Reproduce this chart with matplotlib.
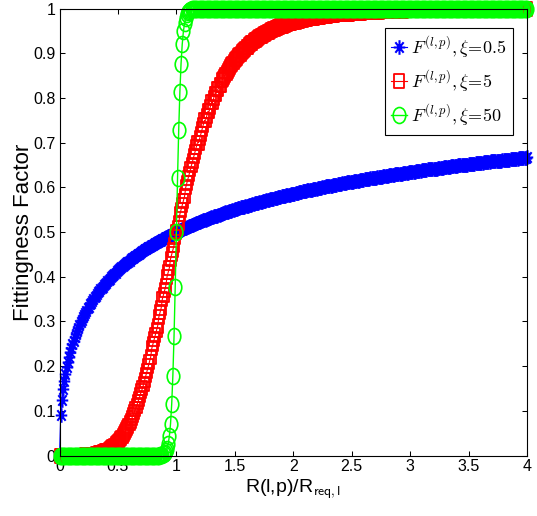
import numpy as np
import matplotlib
matplotlib.use("Agg")
import matplotlib.pyplot as plt
from matplotlib.path import Path
from matplotlib.transforms import Affine2D
from matplotlib import font_manager

# ---------------- data (grid step 0.01) ----------------
x_start, x_stop, n_points = 0.0, 4.0, 401
x_values = np.linspace(x_start, x_stop, n_points)

series_labels = [r"$F^{(l,p)},\xi\!=\!0.5$",
                 r"$F^{(l,p)},\xi\!=\!5$",
                 r"$F^{(l,p)},\xi\!=\!50$"]

f_xi_0_5 = [
    0.000, 0.091, 0.124, 0.148, 0.167, 0.183, 0.197, 0.209, 0.220, 0.231,
    0.240, 0.249, 0.257, 0.265, 0.272, 0.279, 0.286, 0.292, 0.298, 0.304,
    0.309, 0.314, 0.319, 0.324, 0.329, 0.333, 0.338, 0.342, 0.346, 0.350,
    0.354, 0.358, 0.361, 0.365, 0.368, 0.372, 0.375, 0.378, 0.381, 0.384,
    0.387, 0.390, 0.393, 0.396, 0.399, 0.402, 0.404, 0.407, 0.409, 0.412,
    0.414, 0.417, 0.419, 0.421, 0.424, 0.426, 0.428, 0.430, 0.432, 0.434,
    0.436, 0.439, 0.441, 0.443, 0.444, 0.446, 0.448, 0.450, 0.452, 0.454,
    0.456, 0.457, 0.459, 0.461, 0.462, 0.464, 0.466, 0.467, 0.469, 0.471,
    0.472, 0.474, 0.475, 0.477, 0.478, 0.480, 0.481, 0.483, 0.484, 0.485,
    0.487, 0.488, 0.490, 0.491, 0.492, 0.494, 0.495, 0.496, 0.497, 0.499,
    0.500, 0.501, 0.502, 0.504, 0.505, 0.506, 0.507, 0.508, 0.510, 0.511,
    0.512, 0.513, 0.514, 0.515, 0.516, 0.517, 0.518, 0.520, 0.521, 0.522,
    0.523, 0.524, 0.525, 0.526, 0.527, 0.528, 0.529, 0.530, 0.531, 0.532,
    0.533, 0.534, 0.535, 0.536, 0.536, 0.537, 0.538, 0.539, 0.540, 0.541,
    0.542, 0.543, 0.544, 0.545, 0.545, 0.546, 0.547, 0.548, 0.549, 0.550,
    0.551, 0.551, 0.552, 0.553, 0.554, 0.555, 0.555, 0.556, 0.557, 0.558,
    0.558, 0.559, 0.560, 0.561, 0.561, 0.562, 0.563, 0.564, 0.564, 0.565,
    0.566, 0.567, 0.567, 0.568, 0.569, 0.569, 0.570, 0.571, 0.572, 0.572,
    0.573, 0.574, 0.574, 0.575, 0.576, 0.576, 0.577, 0.578, 0.578, 0.579,
    0.580, 0.580, 0.581, 0.581, 0.582, 0.583, 0.583, 0.584, 0.585, 0.585,
    0.586, 0.586, 0.587, 0.588, 0.588, 0.589, 0.589, 0.590, 0.591, 0.591,
    0.592, 0.592, 0.593, 0.593, 0.594, 0.595, 0.595, 0.596, 0.596, 0.597,
    0.597, 0.598, 0.598, 0.599, 0.599, 0.600, 0.601, 0.601, 0.602, 0.602,
    0.603, 0.603, 0.604, 0.604, 0.605, 0.605, 0.606, 0.606, 0.607, 0.607,
    0.608, 0.608, 0.609, 0.609, 0.610, 0.610, 0.611, 0.611, 0.612, 0.612,
    0.613, 0.613, 0.614, 0.614, 0.614, 0.615, 0.615, 0.616, 0.616, 0.617,
    0.617, 0.618, 0.618, 0.619, 0.619, 0.619, 0.620, 0.620, 0.621, 0.621,
    0.622, 0.622, 0.623, 0.623, 0.623, 0.624, 0.624, 0.625, 0.625, 0.626,
    0.626, 0.626, 0.627, 0.627, 0.628, 0.628, 0.628, 0.629, 0.629, 0.630,
    0.630, 0.630, 0.631, 0.631, 0.632, 0.632, 0.632, 0.633, 0.633, 0.634,
    0.634, 0.634, 0.635, 0.635, 0.635, 0.636, 0.636, 0.637, 0.637, 0.637,
    0.638, 0.638, 0.639, 0.639, 0.639, 0.640, 0.640, 0.640, 0.641, 0.641,
    0.641, 0.642, 0.642, 0.642, 0.643, 0.643, 0.644, 0.644, 0.644, 0.645,
    0.645, 0.645, 0.646, 0.646, 0.646, 0.647, 0.647, 0.647, 0.648, 0.648,
    0.648, 0.649, 0.649, 0.649, 0.650, 0.650, 0.650, 0.651, 0.651, 0.651,
    0.652, 0.652, 0.652, 0.653, 0.653, 0.653, 0.654, 0.654, 0.654, 0.655,
    0.655, 0.655, 0.655, 0.656, 0.656, 0.656, 0.657, 0.657, 0.657, 0.658,
    0.658, 0.658, 0.659, 0.659, 0.659, 0.659, 0.660, 0.660, 0.660, 0.661,
    0.661, 0.661, 0.662, 0.662, 0.662, 0.662, 0.663, 0.663, 0.663, 0.664,
    0.664, 0.664, 0.664, 0.665, 0.665, 0.665, 0.666, 0.666, 0.666, 0.666,
    0.667,
]

f_xi_5 = [
    0.000, 0.000, 0.000, 0.000, 0.000, 0.000, 0.000, 0.000, 0.000, 0.000,
    0.000, 0.000, 0.000, 0.000, 0.000, 0.000, 0.000, 0.000, 0.000, 0.000,
    0.000, 0.000, 0.001, 0.001, 0.001, 0.001, 0.001, 0.001, 0.002, 0.002,
    0.002, 0.003, 0.003, 0.004, 0.005, 0.005, 0.006, 0.007, 0.008, 0.009,
    0.010, 0.011, 0.013, 0.014, 0.016, 0.018, 0.020, 0.022, 0.025, 0.027,
    0.030, 0.033, 0.037, 0.040, 0.044, 0.048, 0.052, 0.057, 0.062, 0.067,
    0.072, 0.078, 0.084, 0.090, 0.097, 0.104, 0.111, 0.119, 0.127, 0.135,
    0.144, 0.150, 0.160, 0.170, 0.180, 0.190, 0.200, 0.210, 0.220, 0.240,
    0.250, 0.260, 0.270, 0.280, 0.290, 0.310, 0.320, 0.330, 0.350, 0.360,
    0.370, 0.380, 0.400, 0.410, 0.420, 0.440, 0.450, 0.460, 0.470, 0.490,
    0.500, 0.510, 0.520, 0.540, 0.550, 0.560, 0.570, 0.580, 0.600, 0.610,
    0.620, 0.630, 0.640, 0.650, 0.660, 0.670, 0.680, 0.690, 0.700, 0.700,
    0.710, 0.720, 0.730, 0.740, 0.750, 0.750, 0.760, 0.770, 0.770, 0.780,
    0.790, 0.790, 0.800, 0.810, 0.810, 0.820, 0.820, 0.830, 0.830, 0.840,
    0.843, 0.848, 0.852, 0.857, 0.861, 0.865, 0.869, 0.873, 0.877, 0.880,
    0.884, 0.887, 0.890, 0.893, 0.896, 0.899, 0.902, 0.905, 0.908, 0.910,
    0.913, 0.915, 0.918, 0.920, 0.922, 0.924, 0.927, 0.929, 0.930, 0.932,
    0.934, 0.936, 0.938, 0.939, 0.941, 0.943, 0.944, 0.946, 0.947, 0.948,
    0.950, 0.951, 0.952, 0.954, 0.955, 0.956, 0.957, 0.958, 0.959, 0.960,
    0.961, 0.962, 0.963, 0.964, 0.965, 0.966, 0.967, 0.967, 0.968, 0.969,
    0.970, 0.970, 0.971, 0.972, 0.972, 0.973, 0.974, 0.974, 0.975, 0.976,
    0.976, 0.977, 0.977, 0.978, 0.978, 0.979, 0.979, 0.980, 0.980, 0.981,
    0.981, 0.981, 0.982, 0.982, 0.983, 0.983, 0.983, 0.984, 0.984, 0.984,
    0.985, 0.985, 0.985, 0.986, 0.986, 0.986, 0.987, 0.987, 0.987, 0.987,
    0.988, 0.988, 0.988, 0.988, 0.989, 0.989, 0.989, 0.989, 0.989, 0.990,
    0.990, 0.990, 0.990, 0.990, 0.991, 0.991, 0.991, 0.991, 0.991, 0.992,
    0.992, 0.992, 0.992, 0.992, 0.992, 0.992, 0.993, 0.993, 0.993, 0.993,
    0.993, 0.993, 0.993, 0.993, 0.994, 0.994, 0.994, 0.994, 0.994, 0.994,
    0.994, 0.994, 0.994, 0.994, 0.995, 0.995, 0.995, 0.995, 0.995, 0.995,
    0.995, 0.995, 0.995, 0.995, 0.995, 0.996, 0.996, 0.996, 0.996, 0.996,
    0.996, 0.996, 0.996, 0.996, 0.996, 0.996, 0.996, 0.996, 0.996, 0.996,
    0.997, 0.997, 0.997, 0.997, 0.997, 0.997, 0.997, 0.997, 0.997, 0.997,
    0.997, 0.997, 0.997, 0.997, 0.997, 0.997, 0.997, 0.997, 0.997, 0.997,
    0.997, 0.997, 0.998, 0.998, 0.998, 0.998, 0.998, 0.998, 0.998, 0.998,
    0.998, 0.998, 0.998, 0.998, 0.998, 0.998, 0.998, 0.998, 0.998, 0.998,
    0.998, 0.998, 0.998, 0.998, 0.998, 0.998, 0.998, 0.998, 0.998, 0.998,
    0.998, 0.998, 0.998, 0.998, 0.998, 0.998, 0.998, 0.998, 0.999, 0.999,
    0.999, 0.999, 0.999, 0.999, 0.999, 0.999, 0.999, 0.999, 0.999, 0.999,
    0.999, 0.999, 0.999, 0.999, 0.999, 0.999, 0.999, 0.999, 0.999, 0.999,
    0.999, 0.999, 0.999, 0.999, 0.999, 0.999, 0.999, 0.999, 0.999, 0.999,
    0.999,
]

f_xi_50 = [
    0, 0, 0, 0, 0, 0, 0, 0, 0, 0,
    0, 0, 0, 0, 0, 0, 0, 0, 0, 0,
    0, 0, 0, 0, 0, 0, 0, 0, 0, 0,
    0, 0, 0, 0, 0, 0, 0, 0, 0, 0,
    0, 0, 0, 0, 0, 0, 0, 0, 0, 0,
    0, 0, 0, 0, 0, 0, 0, 0, 0, 0,
    0, 0, 0, 0, 0, 0, 0, 0, 0, 0,
    0, 0, 0, 0, 0, 0, 0, 0, 0, 0,
    0, 0, 0, 0, 0, 0, 0.001, 0.001, 0.002, 0.003,
    0.005, 0.009, 0.015, 0.026, 0.043, 0.071, 0.115, 0.179, 0.267, 0.377,
    0.500, 0.622, 0.729, 0.814, 0.877, 0.920, 0.949, 0.967, 0.979, 0.987,
    0.992, 0.995, 0.997, 0.998, 0.999, 0.999, 0.999, 1, 1, 1,
    1, 1, 1, 1, 1, 1, 1, 1, 1, 1,
    1, 1, 1, 1, 1, 1, 1, 1, 1, 1,
    1, 1, 1, 1, 1, 1, 1, 1, 1, 1,
    1, 1, 1, 1, 1, 1, 1, 1, 1, 1,
    1, 1, 1, 1, 1, 1, 1, 1, 1, 1,
    1, 1, 1, 1, 1, 1, 1, 1, 1, 1,
    1, 1, 1, 1, 1, 1, 1, 1, 1, 1,
    1, 1, 1, 1, 1, 1, 1, 1, 1, 1,
    1, 1, 1, 1, 1, 1, 1, 1, 1, 1,
    1, 1, 1, 1, 1, 1, 1, 1, 1, 1,
    1, 1, 1, 1, 1, 1, 1, 1, 1, 1,
    1, 1, 1, 1, 1, 1, 1, 1, 1, 1,
    1, 1, 1, 1, 1, 1, 1, 1, 1, 1,
    1, 1, 1, 1, 1, 1, 1, 1, 1, 1,
    1, 1, 1, 1, 1, 1, 1, 1, 1, 1,
    1, 1, 1, 1, 1, 1, 1, 1, 1, 1,
    1, 1, 1, 1, 1, 1, 1, 1, 1, 1,
    1, 1, 1, 1, 1, 1, 1, 1, 1, 1,
    1, 1, 1, 1, 1, 1, 1, 1, 1, 1,
    1, 1, 1, 1, 1, 1, 1, 1, 1, 1,
    1, 1, 1, 1, 1, 1, 1, 1, 1, 1,
    1, 1, 1, 1, 1, 1, 1, 1, 1, 1,
    1, 1, 1, 1, 1, 1, 1, 1, 1, 1,
    1, 1, 1, 1, 1, 1, 1, 1, 1, 1,
    1, 1, 1, 1, 1, 1, 1, 1, 1, 1,
    1, 1, 1, 1, 1, 1, 1, 1, 1, 1,
    1, 1, 1, 1, 1, 1, 1, 1, 1, 1,
    1, 1, 1, 1, 1, 1, 1, 1, 1, 1,
    1,
]

x_ticks = [0, 0.5, 1, 1.5, 2, 2.5, 3, 3.5, 4]
x_tick_labels = ["0", "0.5", "1", "1.5", "2", "2.5", "3", "3.5", "4"]
y_ticks = [0, 0.1, 0.2, 0.3, 0.4, 0.5, 0.6, 0.7, 0.8, 0.9, 1]
y_tick_labels = ["0", "0.1", "0.2", "0.3", "0.4", "0.5", "0.6", "0.7", "0.8", "0.9", "1"]

# ---------------- style ----------------
names = {f.name for f in font_manager.fontManager.ttflist}
narrow = "Liberation Sans Narrow" in names
tick_family = ["Liberation Sans Narrow", "Liberation Sans"] if narrow else ["Liberation Sans"]
tick_size = 12.5 if narrow else 11.5

plt.rcParams["mathtext.fontset"] = "cm"
plt.rcParams["font.family"] = ["Liberation Sans", "DejaVu Sans"]

stretch = 1.27
ellipse_marker = Path.unit_circle().transformed(Affine2D().scale(1, stretch))
square_marker = Path.unit_rectangle().transformed(
    Affine2D().translate(-0.5, -0.5).scale(1, stretch))
d = 0.72
asterisk_marker = Path(
    [(-1, 0), (1, 0), (0, -1), (0, 1), (-d, -d), (d, d), (-d, d), (d, -d)],
    [Path.MOVETO, Path.LINETO] * 4).transformed(Affine2D().scale(1, stretch))

blue = (0, 0, 1)
red = (1, 0, 0)
green = (0, 1, 0)

W, H = 537, 516
fig = plt.figure(figsize=(W / 100, H / 100), dpi=100)
ax_l, ax_r, ax_t, ax_b = 59.5, 527.0, 8.6, 455.5
ax = fig.add_axes([ax_l / W, 1 - ax_b / H, (ax_r - ax_l) / W, (ax_b - ax_t) / H])

ax.plot(x_values, f_xi_0_5, "-", color=blue, lw=0.8, marker=asterisk_marker,
        ms=10.5, mfc="none", mec=blue, mew=1.5, clip_on=False,
        label=series_labels[0])
ax.plot(x_values, f_xi_5, "-", color=red, lw=0.8, marker=square_marker,
        ms=9.5, mfc="none", mec=red, mew=1.3, clip_on=False,
        label=series_labels[1])
ax.plot(x_values, f_xi_50, "-", color=green, lw=1.0, marker=ellipse_marker,
        ms=11.5, mfc="none", mec=green, mew=1.2, clip_on=False,
        label=series_labels[2])

ax.set_xlim(0, 4)
ax.set_ylim(0, 1)
ax.set_xticks(x_ticks)
ax.set_xticklabels(x_tick_labels)
ax.set_yticks(y_ticks)
ax.set_yticklabels(y_tick_labels)
for lab in ax.get_xticklabels() + ax.get_yticklabels():
    lab.set_family(tick_family)
    lab.set_fontsize(tick_size)

ax.tick_params(direction="in", length=3.6, width=0.75, top=True, right=True,
               colors="black")
ax.tick_params(axis="x", pad=2.5)
ax.tick_params(axis="y", pad=3.0)
for s in ax.spines.values():
    s.set_linewidth(0.8)
    s.set_color("black")

ax.set_xlabel(r"R(l,p)/R$_{\mathsf{req,l}}$", fontsize=14, va="baseline")
ax.xaxis.set_label_coords(0.5, (ax_b - 492.3) / (ax_b - ax_t))
ax.set_ylabel("Fittingness Factor", fontsize=16, va="center")
ax.yaxis.set_label_coords((23.5 - ax_l) / (ax_r - ax_l), 0.5)

leg = ax.legend(loc="upper right",
                bbox_to_anchor=((513 - ax_l) / (ax_r - ax_l), 1 - (28 - ax_t) / (ax_b - ax_t)),
                borderaxespad=0, fancybox=False, framealpha=1, edgecolor="black",
                fontsize=13, handlelength=0.9, handletextpad=0.2,
                labelspacing=0.45, borderpad=0.35)
leg.get_frame().set_linewidth(0.8)

fig.savefig("out.png", dpi=100, facecolor="white")
